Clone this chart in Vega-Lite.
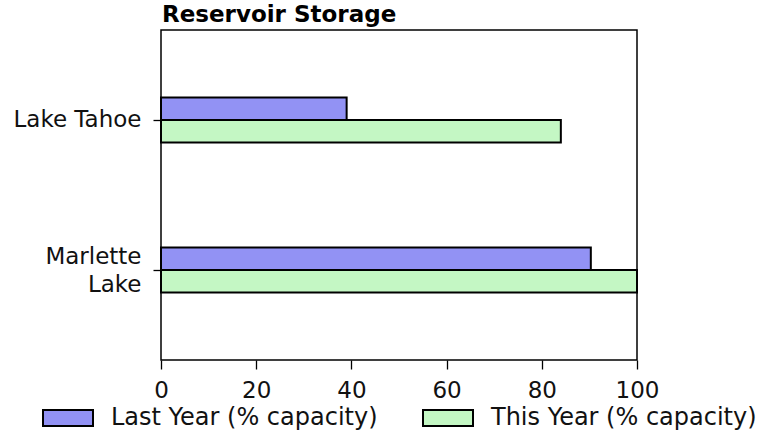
{
  "$schema": "https://vega.github.io/schema/vega-lite/v6.json",
  "autosize": {"type": "none"},
  "width": 476,
  "height": 330,
  "padding": {"left": 161, "top": 30, "right": 136, "bottom": 73},
  "background": "white",
  "title": {"text": "Reservoir Storage", "anchor": "start", "frame": "group", "font": "DejaVu Sans", "fontSize": 23, "fontWeight": "bold", "color": "black", "offset": 3, "dx": 1},
  "data": {"values": [
    {"lake": "Lake Tahoe", "series": "Last Year (% capacity)", "value": 39},
    {"lake": "Lake Tahoe", "series": "This Year (% capacity)", "value": 84},
    {"lake": "Marlette Lake", "series": "Last Year (% capacity)", "value": 90.3},
    {"lake": "Marlette Lake", "series": "This Year (% capacity)", "value": 100}
  ]},
  "mark": {"type": "bar", "stroke": "black", "strokeWidth": 2, "opacity": 1},
  "encoding": {
    "y": {"field": "lake", "type": "nominal", "sort": ["Lake Tahoe", "Marlette Lake"],
      "scale": {"paddingInner": 0.7, "paddingOuter": 0.45},
      "axis": {"title": null, "domain": false, "labelFont": "DejaVu Sans", "labelFontSize": 23, "labelColor": "#111", "tickColor": "black", "tickSize": 8, "tickWidth": 1.3, "labelPadding": 12,
        "labelExpr": "datum.label == 'Marlette Lake' ? ['Marlette', 'Lake'] : datum.label", "labelLineHeight": 28,
        "labelOffset": {"condition": {"test": "datum.value == 'Marlette Lake'", "value": -13}, "value": 0}}},
    "yOffset": {"field": "series", "type": "nominal", "sort": ["Last Year (% capacity)", "This Year (% capacity)"], "scale": {"paddingInner": 0, "paddingOuter": 0}},
    "x": {"field": "value", "type": "quantitative", "scale": {"domain": [0, 100], "nice": false},
      "axis": {"title": null, "domain": false, "grid": false, "values": [0, 20, 40, 60, 80, 100], "labelFont": "DejaVu Sans", "labelFontSize": 23, "labelColor": "#111", "tickColor": "black", "tickSize": 9, "tickWidth": 1.3, "labelPadding": 10, "labelFlush": false}},
    "color": {"field": "series", "type": "nominal", "sort": ["Last Year (% capacity)", "This Year (% capacity)"],
      "scale": {"range": ["#9292f4", "#c4f7c4"]},
      "legend": {"title": null, "orient": "none", "legendX": -119, "legendY": 362, "direction": "horizontal",
        "symbolType": "M-1,-0.32H1V0.32H-1Z", "symbolSize": 2500, "symbolStrokeColor": "black", "symbolStrokeWidth": 2, "symbolOpacity": 1,
        "labelFont": "DejaVu Sans", "labelFontSize": 24, "labelColor": "#111", "labelOffset": 17, "columnPadding": 41, "padding": 0, "labelLimit": 400}}
  },
  "config": {"view": {"stroke": "black", "strokeWidth": 1.5}}
}
